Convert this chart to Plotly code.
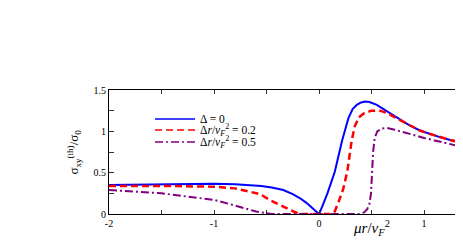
import plotly.graph_objects as go

# Data
x_blue = [-2, -1.75, -1.5, -1.25, -1, -0.8, -0.66, -0.55, -0.45, -0.34, -0.25, -0.18, -0.12, -0.07, -0.03, 0,
          0.03, 0.08, 0.15, 0.22, 0.28, 0.32, 0.36, 0.40, 0.44, 0.48, 0.55, 0.65, 0.75, 0.85, 0.96, 1.05, 1.15, 1.25, 1.37]
y_blue = [0.35, 0.355, 0.36, 0.365, 0.365, 0.36, 0.35, 0.34, 0.32, 0.29, 0.24, 0.19, 0.135, 0.08, 0.035, 0.0,
          0.09, 0.25, 0.51, 0.89, 1.16, 1.27, 1.32, 1.35, 1.36, 1.355, 1.32, 1.24, 1.16, 1.08, 1.01, 0.97, 0.93, 0.895, 0.86]

x_red = [-2, -1.5, -1.0, -0.8, -0.66, -0.56, -0.47, -0.4, -0.34, -0.27, -0.22, -0.18, 0.12, 0.15, 0.19, 0.23,
         0.27, 0.31, 0.34, 0.38, 0.43, 0.5, 0.58, 0.65, 0.75, 0.85, 0.96, 1.05, 1.15, 1.25, 1.37]
y_red = [0.34, 0.34, 0.33, 0.31, 0.27, 0.24, 0.17, 0.13, 0.09, 0.045, 0.015, 0.0, 0.0, 0.03, 0.16, 0.30,
         0.52, 0.88, 1.06, 1.17, 1.22, 1.25, 1.25, 1.22, 1.15, 1.08, 1.01, 0.97, 0.93, 0.895, 0.86]

x_purple = [-2, -1.75, -1.5, -1.25, -1, -0.85, -0.72, -0.6, -0.5, -0.45, 0.38, 0.43, 0.46, 0.48, 0.495, 0.505,
            0.515, 0.53, 0.555, 0.6, 0.65, 0.72, 0.8, 0.9, 1.0, 1.1, 1.2, 1.3, 1.37]
y_purple = [0.29, 0.27, 0.25, 0.21, 0.17, 0.12, 0.07, 0.03, 0.01, 0.0, 0.0, 0.02, 0.06, 0.12, 0.25, 0.5,
            0.75, 0.92, 1.0, 1.035, 1.04, 1.02, 0.99, 0.95, 0.92, 0.89, 0.86, 0.83, 0.81]

names = ["Δ = 0",
         "Δ<i>r</i>/<i>v</i><sub><i>F</i></sub><sup>2</sup> = 0.2",
         "Δ<i>r</i>/<i>v</i><sub><i>F</i></sub><sup>2</sup> = 0.5"]
colors = ["#0000ff", "#ff0000", "#800080"]
widths = [2, 2.5, 2]
dashes = ["solid", "7px,4px", "8px,3px,2px,3px"]

x_tickvals = [-2, -1.5, -1, -0.5, 0, 0.5, 1]
x_ticktext = ["-2", "", "-1", "", "0", "", "1"]
y_tickvals = [0, 0.25, 0.5, 0.75, 1, 1.25, 1.5]
y_ticktext = ["0", "", "0.5", "", "1", "", "1.5"]

SERIF = "Liberation Serif"

fig = go.Figure()
for xs, ys, nm, c, w, d in zip([x_blue, x_red, x_purple], [y_blue, y_red, y_purple],
                               names, colors, widths, dashes):
    fig.add_trace(go.Scatter(x=xs, y=ys, mode="lines", name=nm,
                             line=dict(color=c, width=w, dash=d)))

# The page body has an 8px margin, so the figure is 8px smaller than the window
fig.update_layout(
    width=455, height=237,
    margin=dict(l=101, r=0, t=82, b=31, autoexpand=False),
    paper_bgcolor="white", plot_bgcolor="white",
    font=dict(family=SERIF, size=10, color="black"),
    showlegend=False,
    xaxis=dict(range=[-2, 1.371], tickvals=x_tickvals, ticktext=x_ticktext, automargin=False,
               ticks="inside", ticklen=4, tickcolor="#333", showgrid=False, zeroline=False,
               showline=True, linecolor="black", linewidth=1, mirror="ticks",
               tickfont=dict(family=SERIF, size=10)),
    yaxis=dict(range=[0, 1.5], tickvals=y_tickvals, ticktext=y_ticktext, automargin=False,
               ticks="inside", ticklen=5, tickcolor="#333", showgrid=False, zeroline=False,
               showline=True, linecolor="black", linewidth=1,
               tickfont=dict(family=SERIF, size=10)),
)

# Legend key (drawn in paper coordinates)
legend_y = [0.766, 0.677, 0.581]
for nm, c, d, ly in zip(names, colors, dashes, legend_y):
    fig.add_shape(type="line", xref="paper", yref="paper", x0=0.130, x1=0.243, y0=ly, y1=ly,
                  line=dict(color=c, width=1.5, dash=d))
    fig.add_annotation(x=0.252, y=ly, xref="paper", yref="paper", xanchor="left", yanchor="middle",
                       text=nm, showarrow=False, font=dict(family=SERIF, size=11.5))

# Axis titles
fig.add_annotation(x=0.5, xref="x", y=-0.113, yref="paper", yanchor="middle",
                   text="<i>μr</i>/<i>v</i><sub><i>F</i></sub><sup>2</sup>",
                   showarrow=False, font=dict(family=SERIF, size=15))
fig.add_annotation(x=-0.1, xref="paper", y=0.5, yref="paper", xanchor="center", yanchor="middle",
                   textangle=-90, text="σ<sub>xy</sub><sup>(th)</sup>/σ<sub>0</sub>",
                   showarrow=False, font=dict(family=SERIF, size=13))

fig.write_html("out.html")
